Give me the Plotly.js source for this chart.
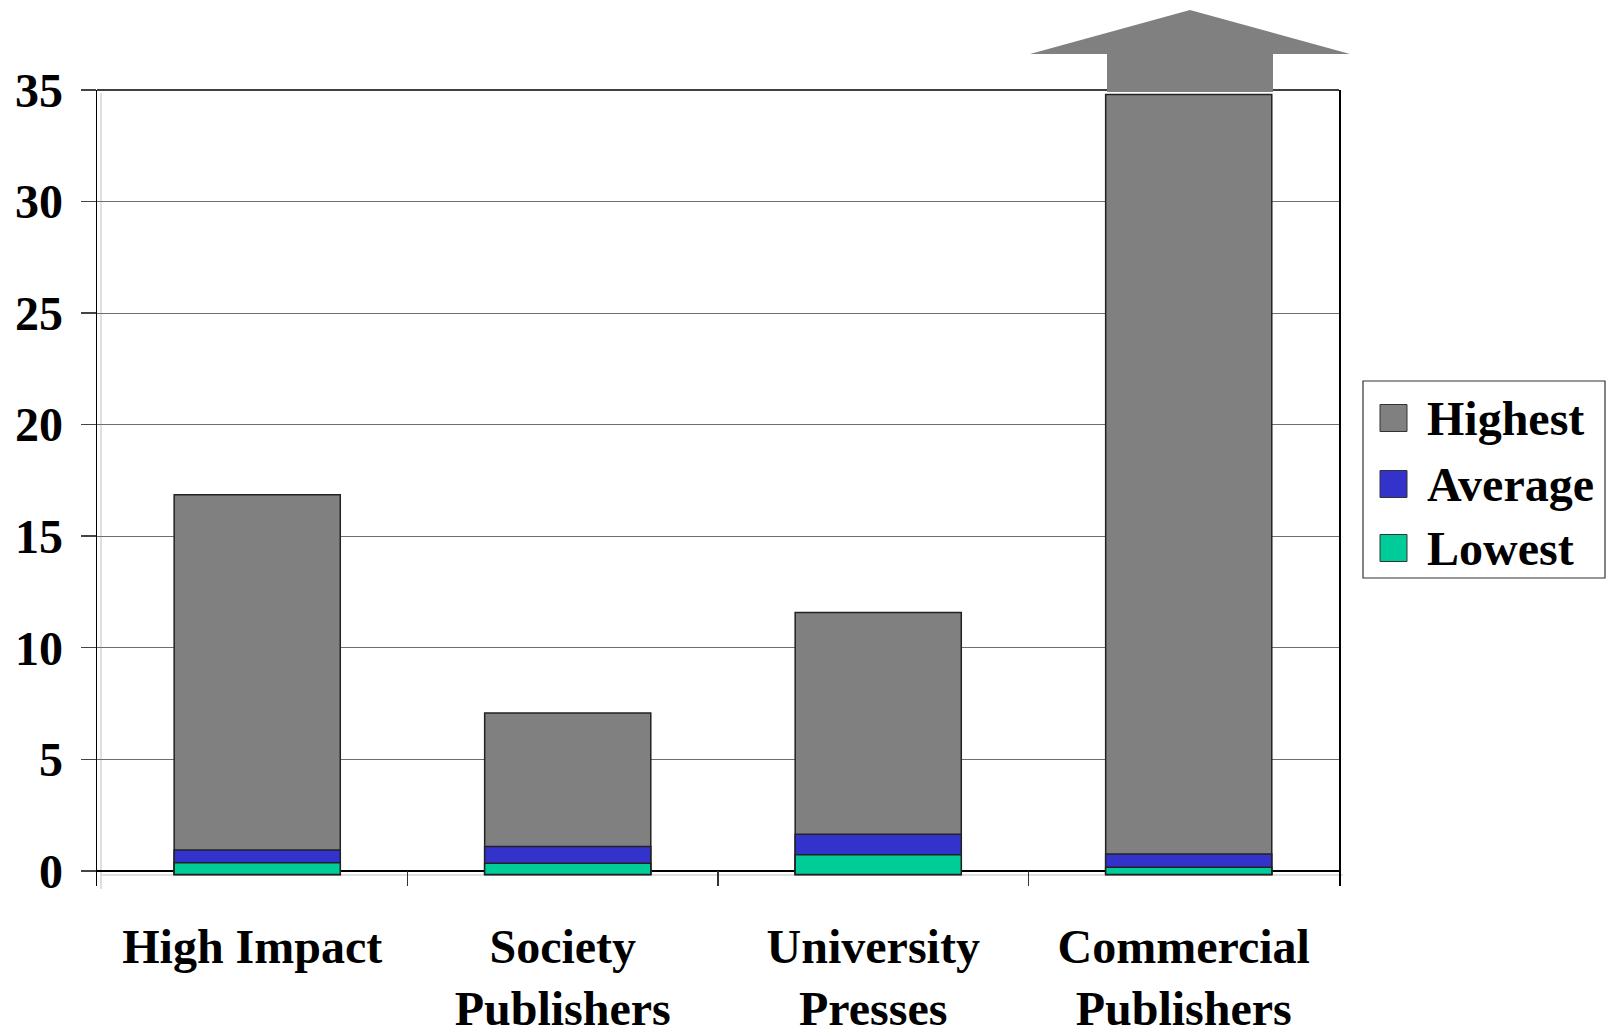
<!DOCTYPE html>
<html>
<head>
<meta charset="utf-8">
<script src="https://cdn.plot.ly/plotly-3.0.1.min.js"></script>
<style>
  html, body { margin: 0; padding: 0; background: #ffffff; }
  #chart { width: 1606px; height: 1029px; }
</style>
</head>
<body>
<div id="chart"></div>
<script>
// ---- data ----
const categories = ['High Impact', 'Society<br>Publishers', 'University<br>Presses', 'Commercial<br>Publishers'];
const seriesNames = ['Highest', 'Average', 'Lowest'];
const highest = [16.86, 7.07, 11.58, 34.8];
const average = [0.93, 1.09, 1.64, 0.75];
const lowest  = [0.36, 0.34, 0.72, 0.16];
const yTickValues = [0, 5, 10, 15, 20, 25, 30, 35];

// ---- style ----
const colors = ['#808080', '#3333CC', '#00CC99'];
const FONT = 'Liberation Serif, Times New Roman, serif';
const BAR_BASE = -0.16;   // bars sink slightly below the zero line, as in the original
const BAR_WIDTH = 0.535;
const BAR_SHIFT = 0.016;  // bars sit a hair right of the category centre

const W = 1606, H = 1029;
const L = 97, R = 1339, T = 90, B = 886;
const px = x => (x - L) / (R - L);
const py = y => (B - y) / (B - T);

const seriesValues = [highest, average, lowest];
const traces = seriesValues.map((vals, i) => ({
  type: 'bar',
  name: seriesNames[i],
  x: categories,
  y: vals.map(v => v - BAR_BASE),
  base: BAR_BASE,
  width: BAR_WIDTH,
  offset: -BAR_WIDTH / 2 + BAR_SHIFT,
  marker: { color: colors[i], line: { color: '#222222', width: 1.5 } },
  showlegend: false,
  hoverinfo: 'skip'
}));

const shapes = [
  // top frame line
  { type: 'line', xref: 'paper', yref: 'paper', x0: 0, x1: 1, y0: 1, y1: 1,
    line: { color: '#000000', width: 1.5 }, layer: 'above' },
  // faint 3-D wall / floor lines
  { type: 'line', xref: 'paper', yref: 'paper', x0: px(101), x1: px(101), y0: py(93), y1: py(889),
    line: { color: '#d4d4d4', width: 1.5 }, layer: 'below' },
  { type: 'line', xref: 'paper', yref: 'paper', x0: px(101), x1: px(1343), y0: py(875), y1: py(875),
    line: { color: '#d4d4d4', width: 1.5 }, layer: 'below' },
  // upward arrow above the clipped commercial bar
  { type: 'path', xref: 'paper', yref: 'paper', layer: 'above',
    path: `M ${px(1190)} ${py(10)} L ${px(1350)} ${py(54)} L ${px(1273)} ${py(54)} L ${px(1273)} ${py(92)} ` +
          `L ${px(1107)} ${py(92)} L ${px(1107)} ${py(54)} L ${px(1030)} ${py(54)} Z`,
    fillcolor: '#808080', line: { width: 0 } },
  // legend box
  { type: 'rect', xref: 'paper', yref: 'paper', x0: px(1363), x1: px(1605), y0: py(381), y1: py(578),
    fillcolor: '#ffffff', line: { color: '#333333', width: 1.2 }, layer: 'above' }
];

const annotations = [];
const legendY = [418, 484, 548];
seriesNames.forEach((name, i) => {
  shapes.push({ type: 'rect', xref: 'paper', yref: 'paper', layer: 'above',
    x0: px(1380), x1: px(1407), y0: py(legendY[i] - 13.5), y1: py(legendY[i] + 13.5),
    fillcolor: colors[i], line: { color: '#333333', width: 1 } });
  annotations.push({ xref: 'paper', yref: 'paper', x: px(1425), y: py(legendY[i]),
    xanchor: 'left', yanchor: 'middle', showarrow: false, text: name,
    font: { family: FONT, size: 48, color: '#000000', weight: 'bold' } });
});

const layout = {
  width: W, height: H,
  margin: { l: L, r: W - R, t: T, b: H - B, pad: 0 },
  paper_bgcolor: '#ffffff', plot_bgcolor: '#ffffff',
  barmode: 'overlay',
  showlegend: false,
  hovermode: false,
  font: { family: FONT, size: 48, color: '#000000', weight: 'bold' },
  xaxis: {
    type: 'category',
    categoryorder: 'array', categoryarray: categories,
    range: [-0.5, 3.5],
    showline: false, showgrid: false, zeroline: false,
    ticks: 'inside', ticklen: 15, tickwidth: 1.5, tickcolor: '#333333',
    tickson: 'boundaries',
    ticklabelstandoff: 28,
    tickfont: { family: FONT, size: 48, color: '#000000', weight: 'bold' },
    fixedrange: true
  },
  yaxis: {
    range: [-0.68, 35],
    tickvals: yTickValues,
    ticktext: yTickValues.map(String),
    showgrid: true, gridcolor: '#6e6e6e', gridwidth: 1,
    zeroline: true, zerolinecolor: '#000000', zerolinewidth: 1.5,
    showline: true, linecolor: '#000000', linewidth: 1.5, mirror: true,
    ticks: 'outside', ticklen: 15, tickwidth: 1.5, tickcolor: '#444444',
    ticklabelstandoff: 8,
    tickfont: { family: FONT, size: 48, color: '#000000', weight: 'bold' },
    fixedrange: true
  },
  shapes: shapes,
  annotations: annotations
};

Plotly.newPlot('chart', traces, layout, { displayModeBar: false, staticPlot: true });
</script>
</body>
</html>
